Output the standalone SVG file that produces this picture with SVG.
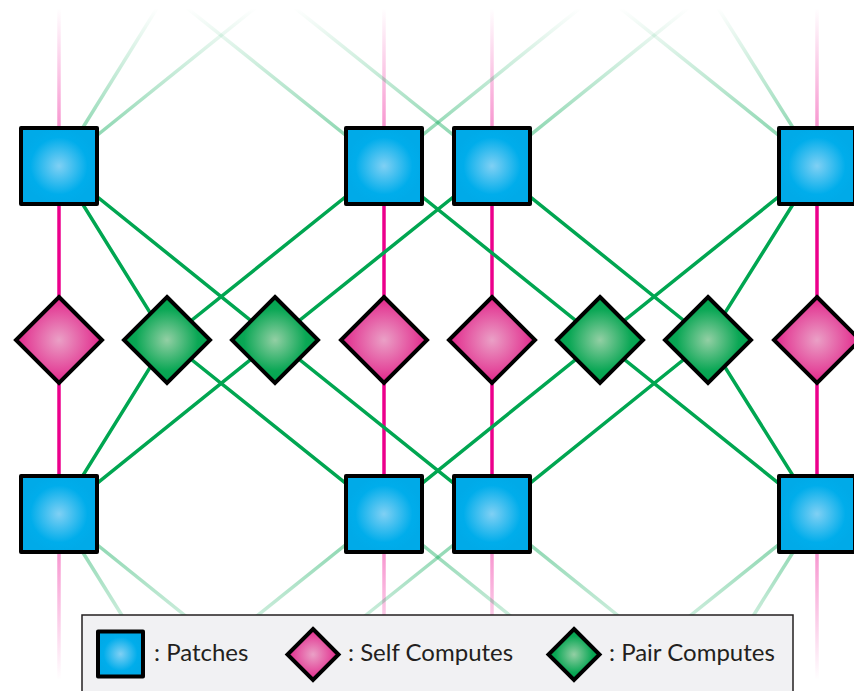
<svg xmlns="http://www.w3.org/2000/svg" width="854" height="691" viewBox="0 0 854 691">
  <style>
    .patch { fill: url(#gPatch); stroke: #000; stroke-width: 4; stroke-linejoin: round; }
    .self { fill: url(#gSelf); stroke: #000; stroke-width: 4; stroke-linejoin: miter; }
    .pair { fill: url(#gPair); stroke: #000; stroke-width: 4; stroke-linejoin: miter; }
    .pl { stroke: #ec008c; stroke-width: 3.5; fill: none; }
    .gl { stroke: #00a651; stroke-width: 3.5; fill: none; }
    .plTop { stroke: url(#fPinkTop); stroke-width: 3.5; fill: none; }
    .glTop { stroke: url(#fGreenTop); stroke-width: 3.5; fill: none; }
    .plBot { stroke: url(#fPinkBot); stroke-width: 3.5; fill: none; }
    .glBot { stroke: url(#fGreenBot); stroke-width: 3.5; fill: none; }
    .lbl { font-family: Lato, "Open Sans", "Liberation Sans", sans-serif; font-size: 24px; fill: #231f20; }
  </style>
  <defs>
    <radialGradient id="gPatch" cx="0.5" cy="0.5" r="0.5">
      <stop offset="0" stop-color="#80d0f4"/>
      <stop offset="0.75" stop-color="#00adeb"/>
      <stop offset="1" stop-color="#00aae8"/>
    </radialGradient>
    <radialGradient id="gSelf" cx="0.5" cy="0.5" r="0.5">
      <stop offset="0" stop-color="#eaa0c6"/>
      <stop offset="0.72" stop-color="#e4489b"/>
      <stop offset="1" stop-color="#e2228a"/>
    </radialGradient>
    <radialGradient id="gPair" cx="0.5" cy="0.5" r="0.5">
      <stop offset="0" stop-color="#93cfa4"/>
      <stop offset="0.72" stop-color="#0aa755"/>
      <stop offset="1" stop-color="#00a14d"/>
    </radialGradient>
    <!-- fading strokes for connectors leaving the drawing area -->
    <linearGradient id="fPinkTop" gradientUnits="userSpaceOnUse" x1="0" y1="8" x2="0" y2="130">
      <stop offset="0" stop-color="#ec008c" stop-opacity="0"/>
      <stop offset="1" stop-color="#ec008c" stop-opacity="0.42"/>
    </linearGradient>
    <linearGradient id="fGreenTop" gradientUnits="userSpaceOnUse" x1="0" y1="8" x2="0" y2="130">
      <stop offset="0" stop-color="#00a651" stop-opacity="0"/>
      <stop offset="1" stop-color="#00a651" stop-opacity="0.42"/>
    </linearGradient>
    <linearGradient id="fPinkBot" gradientUnits="userSpaceOnUse" x1="0" y1="550" x2="0" y2="680">
      <stop offset="0" stop-color="#ec008c" stop-opacity="0.42"/>
      <stop offset="1" stop-color="#ec008c" stop-opacity="0"/>
    </linearGradient>
    <linearGradient id="fGreenBot" gradientUnits="userSpaceOnUse" x1="0" y1="550" x2="0" y2="680">
      <stop offset="0" stop-color="#00a651" stop-opacity="0.42"/>
      <stop offset="1" stop-color="#00a651" stop-opacity="0"/>
    </linearGradient>
    <rect id="sq" x="-38" y="-38" width="76" height="76"/>
    <path id="dm" d="M0,-43 L43,0 L0,43 L-43,0 Z"/>
  </defs>

  <rect width="854" height="691" fill="#fff"/>

  <g id="connectors">
    <!-- fading links above the top row -->
    <g>
      <line class="plTop" x1="59" y1="0" x2="59" y2="166"/>
      <line class="plTop" x1="384" y1="0" x2="384" y2="166"/>
      <line class="plTop" x1="492" y1="0" x2="492" y2="166"/>
      <line class="plTop" x1="817" y1="0" x2="817" y2="166"/>
      <line class="glTop" x1="59" y1="166" x2="167" y2="-8"/>
      <line class="glTop" x1="59" y1="166" x2="275" y2="-8"/>
      <line class="glTop" x1="384" y1="166" x2="167" y2="-8"/>
      <line class="glTop" x1="384" y1="166" x2="600" y2="-8"/>
      <line class="glTop" x1="492" y1="166" x2="275" y2="-8"/>
      <line class="glTop" x1="492" y1="166" x2="708" y2="-8"/>
      <line class="glTop" x1="817" y1="166" x2="600" y2="-8"/>
      <line class="glTop" x1="817" y1="166" x2="708" y2="-8"/>
    </g>
    <!-- fading links below the bottom row -->
    <g>
      <line class="plBot" x1="59" y1="514" x2="59" y2="691"/>
      <line class="plBot" x1="384" y1="514" x2="384" y2="691"/>
      <line class="plBot" x1="492" y1="514" x2="492" y2="691"/>
      <line class="plBot" x1="817" y1="514" x2="817" y2="691"/>
      <line class="glBot" x1="59" y1="514" x2="167" y2="688"/>
      <line class="glBot" x1="59" y1="514" x2="275" y2="688"/>
      <line class="glBot" x1="384" y1="514" x2="167" y2="688"/>
      <line class="glBot" x1="384" y1="514" x2="600" y2="688"/>
      <line class="glBot" x1="492" y1="514" x2="275" y2="688"/>
      <line class="glBot" x1="492" y1="514" x2="708" y2="688"/>
      <line class="glBot" x1="817" y1="514" x2="600" y2="688"/>
      <line class="glBot" x1="817" y1="514" x2="708" y2="688"/>
    </g>
    <!-- self compute links -->
    <line class="pl" x1="59" y1="166" x2="59" y2="514"/>
    <line class="pl" x1="384" y1="166" x2="384" y2="514"/>
    <line class="pl" x1="492" y1="166" x2="492" y2="514"/>
    <line class="pl" x1="817" y1="166" x2="817" y2="514"/>
    <!-- pair compute links -->
    <polyline class="gl" points="59,166 167,340 384,166"/>
    <polyline class="gl" points="59,514 167,340 384,514"/>
    <polyline class="gl" points="59,166 275,340 492,166"/>
    <polyline class="gl" points="59,514 275,340 492,514"/>
    <polyline class="gl" points="384,166 600,340 817,166"/>
    <polyline class="gl" points="384,514 600,340 817,514"/>
    <polyline class="gl" points="492,166 708,340 817,166"/>
    <polyline class="gl" points="492,514 708,340 817,514"/>
  </g>

  <!-- patches, top row -->
  <g id="patch-t1" transform="translate(59,166)"><use href="#sq" class="patch"/></g>
  <g id="patch-t2" transform="translate(384,166)"><use href="#sq" class="patch"/></g>
  <g id="patch-t3" transform="translate(492,166)"><use href="#sq" class="patch"/></g>
  <g id="patch-t4" transform="translate(817,166)"><use href="#sq" class="patch"/></g>

  <!-- computes -->
  <g id="self-1" transform="translate(59,340)"><use href="#dm" class="self"/></g>
  <g id="pair-1" transform="translate(167,340)"><use href="#dm" class="pair"/></g>
  <g id="pair-2" transform="translate(275,340)"><use href="#dm" class="pair"/></g>
  <g id="self-2" transform="translate(384,340)"><use href="#dm" class="self"/></g>
  <g id="self-3" transform="translate(492,340)"><use href="#dm" class="self"/></g>
  <g id="pair-3" transform="translate(600,340)"><use href="#dm" class="pair"/></g>
  <g id="pair-4" transform="translate(708,340)"><use href="#dm" class="pair"/></g>
  <g id="self-4" transform="translate(817,340)"><use href="#dm" class="self"/></g>

  <!-- patches, bottom row -->
  <g id="patch-b1" transform="translate(59,514)"><use href="#sq" class="patch"/></g>
  <g id="patch-b2" transform="translate(384,514)"><use href="#sq" class="patch"/></g>
  <g id="patch-b3" transform="translate(492,514)"><use href="#sq" class="patch"/></g>
  <g id="patch-b4" transform="translate(817,514)"><use href="#sq" class="patch"/></g>

  <!-- legend -->
  <g id="legend">
    <rect x="82" y="615" width="711" height="90" fill="#f1f1f3" stroke="#231f20" stroke-width="1.5"/>
    <rect x="98" y="631.5" width="45" height="45" class="patch"/>
    <text class="lbl" x="154" y="661">: Patches</text>
    <path d="M313,629 L338.5,654.5 L313,680 L287.5,654.5 Z" class="self"/>
    <text class="lbl" x="348" y="661">: Self Computes</text>
    <path d="M574,629 L599.5,654.5 L574,680 L548.5,654.5 Z" class="pair"/>
    <text class="lbl" x="609" y="661">: Pair Computes</text>
  </g>
</svg>
